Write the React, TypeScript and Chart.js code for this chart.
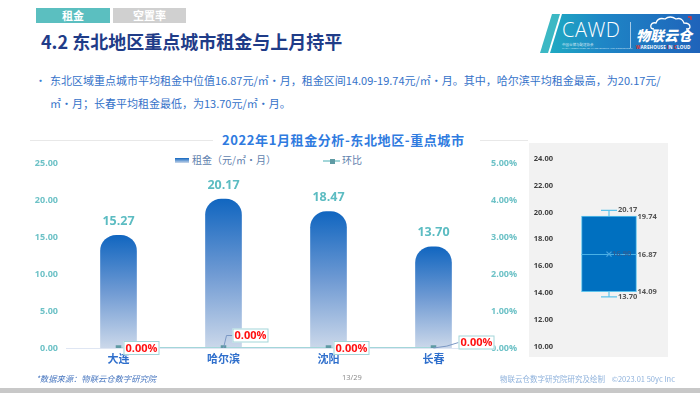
import React, { useEffect, useRef } from "react";
import { Chart, registerables } from "chart.js";

Chart.register(...registerables);

// ---------- data ----------
const cities = ["大连", "哈尔滨", "沈阳", "长春"];
const rentValues = [15.27, 20.17, 18.47, 13.7];
const momValues = [0, 0, 0, 0];
const rentAxisMax = 25;
const rentAxisStep = 5;
const pctAxisMax = 5;
const pctAxisStep = 1;

const boxMin = 13.7;
const boxQ1 = 14.09;
const boxMedian = 16.87;
const boxQ3 = 19.74;
const boxMax = 20.17;
const boxMean = 16.9;
const boxAxisMin = 10;
const boxAxisMax = 24;
const boxAxisStep = 2;

// ---------- styles ----------
const changeLabelPlacement = [
  { dx: 5, dy: 0, leader: 0 },
  { dx: 9, dy: -12.5, leader: 1 },
  { dx: 5, dy: 0, leader: 0 },
  { dx: 25, dy: -5.5, leader: 2 },
];
const NUM_FONT = "'Open Sans', 'Noto Sans CJK SC', sans-serif";
const CJK_FONT = "'Noto Sans CJK SC', 'Noto Sans', sans-serif";

const mainLabelsPlugin = {
  id: "mainLabels",
  afterDraw(chart: any) {
    const ctx = chart.ctx;
    const bars = chart.getDatasetMeta(0).data;
    ctx.save();
    ctx.font = `bold 12.5px ${NUM_FONT}`;
    ctx.fillStyle = "#5cbcc2";
    ctx.textAlign = "center";
    ctx.textBaseline = "middle";
    bars.forEach((b: any, i: number) => {
      ctx.fillText(rentValues[i].toFixed(2), b.x, b.y - 14);
    });
    const pts = chart.getDatasetMeta(1).data;
    pts.forEach((p: any, i: number) => {
      const pl = changeLabelPlacement[i];
      const bw = 36;
      const bh = 14;
      const left = p.x + pl.dx;
      const cy = p.y + pl.dy;
      ctx.strokeStyle = "#7b98c4";
      ctx.lineWidth = 1;
      if (pl.leader === 1) {
        ctx.beginPath();
        ctx.moveTo(p.x, p.y);
        ctx.lineTo(p.x + 3, cy);
        ctx.lineTo(left, cy);
        ctx.stroke();
      } else if (pl.leader === 2) {
        ctx.beginPath();
        ctx.moveTo(p.x, p.y);
        ctx.quadraticCurveTo(p.x + 14, p.y - 1, left, cy);
        ctx.stroke();
      }
      ctx.fillStyle = "#ffffff";
      ctx.fillRect(left, cy - bh / 2, bw, bh);
      ctx.strokeStyle = "#a3d6d9";
      ctx.strokeRect(left + 0.5, cy - bh / 2 + 0.5, bw - 1, bh - 1);
      ctx.fillStyle = "#ff1010";
      ctx.font = `bold 11px ${NUM_FONT}`;
      ctx.textAlign = "center";
      ctx.fillText((momValues[i]).toFixed(2) + "%", left + bw / 2, cy + 0.5);
    });
    ctx.restore();
  },
};

const boxPlugin = {
  id: "boxExtras",
  afterDatasetsDraw(chart: any) {
    const ctx = chart.ctx;
    const y = chart.scales.y;
    const bar = chart.getDatasetMeta(0).data[0];
    const x = bar.x;
    const half = bar.width / 2;
    ctx.save();
    ctx.strokeStyle = "#5ec3ec";
    ctx.lineWidth = 1.2;
    const yMax = y.getPixelForValue(boxMax);
    const yQ3 = y.getPixelForValue(boxQ3);
    const yQ1 = y.getPixelForValue(boxQ1);
    const yMin = y.getPixelForValue(boxMin);
    const yMed = y.getPixelForValue(boxMedian);
    const yMean = y.getPixelForValue(boxMean);
    ctx.beginPath();
    ctx.moveTo(x, yMax);
    ctx.lineTo(x, yQ3);
    ctx.moveTo(x - 8, yMax);
    ctx.lineTo(x + 8, yMax);
    ctx.moveTo(x, yQ1);
    ctx.lineTo(x, yMin);
    ctx.moveTo(x - 8, yMin);
    ctx.lineTo(x + 8, yMin);
    ctx.stroke();
    ctx.strokeStyle = "#4ab3e6";
    ctx.lineWidth = 1;
    ctx.beginPath();
    ctx.moveTo(x - half, yMed);
    ctx.lineTo(x + half, yMed);
    ctx.stroke();
    // mean marker
    ctx.strokeStyle = "#4aa6e0";
    ctx.lineWidth = 1.2;
    ctx.beginPath();
    ctx.moveTo(x - 2.5, yMean - 2.5);
    ctx.lineTo(x + 2.5, yMean + 2.5);
    ctx.moveTo(x + 2.5, yMean - 2.5);
    ctx.lineTo(x - 2.5, yMean + 2.5);
    ctx.stroke();
    ctx.font = `bold 7.5px ${NUM_FONT}`;
    ctx.textBaseline = "middle";
    ctx.textAlign = "left";
    ctx.fillStyle = "#2d5f96";
    ctx.fillText(boxMean.toFixed(2), x + 3, yMean);
    ctx.fillStyle = "#555555";
    ctx.fillText(boxMax.toFixed(2), x + 9, yMax);
    ctx.fillText(boxMin.toFixed(2), x + 9, yMin);
    ctx.fillText(boxQ3.toFixed(2), x + half + 1, yQ3 + 1);
    ctx.fillText(boxMedian.toFixed(2), x + half + 1, yMed);
    ctx.fillText(boxQ1.toFixed(2), x + half + 1, yQ1);
    ctx.restore();
  },
};

function MainChart() {
  const ref = useRef<HTMLCanvasElement>(null);
  useEffect(() => {
    const chart = new Chart(ref.current!, {
      type: "bar",
      data: {
        labels: cities,
        datasets: [
          {
            type: "bar",
            label: "租金（元/㎡·月）",
            data: rentValues,
            yAxisID: "y",
            barThickness: 36,
            borderRadius: { topLeft: 16, topRight: 16, bottomLeft: 0, bottomRight: 0 },
            borderSkipped: false,
            backgroundColor: (c: any) => {
              const chart = c.chart;
              const area = chart.chartArea;
              if (!area || c.dataIndex === undefined) return "#6b95cf";
              const ys = chart.scales.y;
              const top = ys.getPixelForValue(rentValues[c.dataIndex]);
              const bottom = ys.getPixelForValue(0);
              const g = chart.ctx.createLinearGradient(0, top, 0, bottom);
              g.addColorStop(0, "#1166c0");
              g.addColorStop(0.5, "#6f9ad3");
              g.addColorStop(1, "#cbd8ea");
              return g;
            },
            order: 2,
          },
          {
            type: "line",
            label: "环比",
            data: momValues,
            yAxisID: "y1",
            borderColor: "#a3d6d9",
            borderWidth: 2,
            pointStyle: "rect",
            pointRadius: 2.5,
            pointBackgroundColor: "#5f9ba4",
            pointBorderColor: "#5f9ba4",
            order: 1,
          } as any,
        ],
      },
      options: {
        animation: false,
        responsive: false,
        maintainAspectRatio: false,
        layout: { padding: { top: 9, left: 0, right: 0, bottom: 0 } },
        plugins: { legend: { display: false }, title: { display: false }, tooltip: { enabled: false } },
        scales: {
          x: {
            grid: { display: false, drawTicks: false },
            border: { display: true, color: "#dfe6f3", width: 1 },
            ticks: {
              color: "#2f6fcc",
              font: { family: CJK_FONT, size: 11, weight: "bold" },
              padding: 4,
            },
            afterFit: (s: any) => {
              s.height = 32;
            },
          },
          y: {
            position: "left",
            min: 0,
            max: rentAxisMax,
            grid: { display: false, drawTicks: false },
            border: { display: false },
            ticks: {
              stepSize: rentAxisStep,
              color: "#6ec2c7",
              font: { family: NUM_FONT, size: 9, weight: "bold" },
              padding: 8,
              callback: (v: any) => Number(v).toFixed(2),
            },
            afterFit: (s: any) => {
              s.width = 66;
            },
          },
          y1: {
            position: "right",
            min: 0,
            max: pctAxisMax,
            grid: { display: false, drawTicks: false },
            border: { display: false },
            ticks: {
              stepSize: pctAxisStep,
              color: "#6ec2c7",
              font: { family: NUM_FONT, size: 9, weight: "bold" },
              padding: 5,
              callback: (v: any) => Number(v).toFixed(2) + "%",
            },
            afterFit: (s: any) => {
              s.width = 44;
            },
          },
        },
      },
      plugins: [mainLabelsPlugin],
    });
    return () => chart.destroy();
  }, []);
  return <canvas ref={ref} width={530} height={230} style={{ position: "absolute", left: 0, top: 150, width: 530, height: 230 }} />;
}

function BoxChart() {
  const ref = useRef<HTMLCanvasElement>(null);
  useEffect(() => {
    const chart = new Chart(ref.current!, {
      type: "bar",
      data: {
        labels: ["租金"],
        datasets: [
          {
            data: [[boxQ1, boxQ3]] as any,
            backgroundColor: "#0070c0",
            borderColor: "#5ec3ec",
            borderWidth: 1,
            borderSkipped: false,
            barThickness: 55,
          },
        ],
      },
      options: {
        animation: false,
        responsive: false,
        maintainAspectRatio: false,
        layout: { padding: { top: 16, bottom: 7, right: 9, left: 0 } },
        plugins: { legend: { display: false }, tooltip: { enabled: false } },
        scales: {
          x: { display: false },
          y: {
            min: boxAxisMin,
            max: boxAxisMax,
            grid: { display: false, drawTicks: false },
            border: { display: false },
            ticks: {
              stepSize: boxAxisStep,
              color: "#404040",
              font: { family: NUM_FONT, size: 7.5, weight: "bold" },
              padding: 6,
              callback: (v: any) => Number(v).toFixed(2),
            },
            afterFit: (s: any) => {
              s.width = 30;
            },
          },
        },
      },
      plugins: [boxPlugin],
    });
    return () => chart.destroy();
  }, []);
  return (
    <canvas
      ref={ref}
      width={139}
      height={214}
      style={{ position: "absolute", left: 529, top: 143, width: 139, height: 214, background: "#f2f2f2" }}
    />
  );
}

function Logo() {
  return (
    <div style={{ position: "absolute", left: 540, top: 14, width: 160, height: 39 }}>
      <div
        style={{
          position: "absolute",
          left: 0,
          top: 0,
          width: 20,
          height: 39,
          background: "#3cb8c4",
          clipPath: "polygon(12px 0, 20px 0, 8px 100%, 0 100%)",
        }}
      />
      <div
        style={{
          position: "absolute",
          left: 10,
          top: 0,
          width: 150,
          height: 39,
          background: "linear-gradient(90deg, #1fa9c2 0%, #1e86c6 35%, #1f63ba 100%)",
          clipPath: "polygon(12px 0, 100% 0, 100% 100%, 0 100%)",
        }}
      />
      <div
        style={{
          position: "absolute",
          left: 22,
          top: 5,
          color: "#fff",
          fontFamily: "'Open Sans', sans-serif",
          fontWeight: 300,
          fontSize: 20,
          lineHeight: "22px",
          letterSpacing: 0.5,
        }}
      >
        CAWD
      </div>
      <div style={{ position: "absolute", left: 22, top: 28, color: "#dbeaf6", fontSize: 3.5, whiteSpace: "nowrap", fontFamily: CJK_FONT }}>
        中国仓储与配送协会
      </div>
      <div style={{ position: "absolute", left: 22, top: 32, color: "#dbeaf6", fontSize: 2.5, whiteSpace: "nowrap", fontFamily: NUM_FONT }}>
        CHINA ASSOCIATION OF WAREHOUSING AND DISTRIBUTION
      </div>
      <div style={{ position: "absolute", left: 90, top: 8, width: 1, height: 26, background: "rgba(255,255,255,0.6)" }} />
      <svg style={{ position: "absolute", left: 110, top: 2 }} width={44} height={14} viewBox="0 0 44 14">
        <path d="M4 13 Q0 13 1 9 Q2 6 6 7 Q8 1 15 3 Q20 -1 26 3 Q32 1 34 7 Q40 7 40 11 Q40 13 36 13" fill="none" stroke="#fff" strokeWidth={1.3} />
        <path d="M38 1 l3 0 l0 3" fill="none" stroke="#e8312f" strokeWidth={1.3} />
      </svg>
      <div
        style={{
          position: "absolute",
          left: 96,
          top: 13,
          color: "#fff",
          fontFamily: CJK_FONT,
          fontWeight: 900,
          fontSize: 14,
          lineHeight: "16px",
          whiteSpace: "nowrap",
          fontStyle: "italic",
        }}
      >
        物联云仓
      </div>
      <div style={{ position: "absolute", left: 96, top: 30, color: "#fff", fontFamily: NUM_FONT, fontWeight: 700, fontSize: 4.6, whiteSpace: "nowrap", letterSpacing: 0.1 }}>
        <span style={{ color: "#e8312f" }}>W</span>AREHOUSE <span style={{ color: "#e8312f" }}>I</span>N <span style={{ color: "#e8312f" }}>C</span>LOUD
      </div>
    </div>
  );
}

export default function App() {
  useEffect(() => {
    document.body.style.margin = "0";
  }, []);
  return (
    <div
      style={{
        position: "fixed",
        left: 0,
        top: 0,
        width: 700,
        height: 393,
        background: "#fff",
        overflow: "hidden",
        fontFamily: CJK_FONT,
      }}
    >
      {/* tabs */}
      <div
        style={{
          position: "absolute",
          left: 36,
          top: 8,
          width: 74,
          height: 15,
          background: "#5bbfc0",
          color: "#fff",
          fontWeight: 700,
          fontSize: 11,
          lineHeight: "15px",
          textAlign: "center",
        }}
      >
        租金
      </div>
      <div
        style={{
          position: "absolute",
          left: 113,
          top: 8,
          width: 73,
          height: 15,
          background: "#d0d0d0",
          color: "#fff",
          fontWeight: 700,
          fontSize: 11,
          lineHeight: "15px",
          textAlign: "center",
        }}
      >
        空置率
      </div>
      {/* title */}
      <div
        style={{
          position: "absolute",
          left: 41,
          top: 28,
          color: "#1f3c88",
          fontWeight: 700,
          fontSize: 18,
          lineHeight: "26px",
          whiteSpace: "nowrap",
        }}
      >
        4.2 东北地区重点城市租金与上月持平
      </div>
      <Logo />
      {/* bullet text */}
      <div style={{ position: "absolute", left: 35, top: 69, color: "#3d7fd6", fontSize: 11, lineHeight: "23px" }}>•</div>
      <div
        style={{
          position: "absolute",
          left: 50,
          top: 69,
          color: "#3572c9",
          fontSize: 11,
          lineHeight: "23px",
          whiteSpace: "nowrap",
        }}
      >
        东北区域重点城市平均租金中位值16.87元/㎡·月，租金区间14.09-19.74元/㎡·月。其中，哈尔滨平均租金最高，为20.17元/
        <br />
        ㎡·月；长春平均租金最低，为13.70元/㎡·月。
      </div>
      {/* chart title */}
      <div style={{ position: "absolute", left: 30, top: 140, width: 183, height: 1, background: "#e8e8e8" }} />
      <div style={{ position: "absolute", left: 480, top: 140, width: 48, height: 1, background: "#e8e8e8" }} />
      <div
        style={{
          position: "absolute",
          left: 222,
          top: 131,
          color: "#2f7be0",
          fontWeight: 700,
          fontSize: 13,
          lineHeight: "18px",
          letterSpacing: 0.6,
          whiteSpace: "nowrap",
        }}
      >
        2022年1月租金分析-东北地区-重点城市
      </div>
      {/* legend */}
      <div
        style={{
          position: "absolute",
          left: 175,
          top: 158,
          width: 14,
          height: 5,
          background: "linear-gradient(180deg, #1166c0, #cbd8ea)",
        }}
      />
      <div style={{ position: "absolute", left: 192, top: 153, color: "#5f7fae", fontSize: 10, lineHeight: "14px", whiteSpace: "nowrap" }}>
        租金（元/㎡·月）
      </div>
      <div style={{ position: "absolute", left: 323, top: 160, width: 17, height: 2, background: "#a3d6d9" }} />
      <div style={{ position: "absolute", left: 329.5, top: 158.5, width: 5, height: 5, background: "#5f9ba4" }} />
      <div style={{ position: "absolute", left: 342, top: 153, color: "#5f7fae", fontSize: 10, lineHeight: "14px", whiteSpace: "nowrap" }}>
        环比
      </div>
      <MainChart />
      <BoxChart />
      {/* footer */}
      <div
        style={{
          position: "absolute",
          left: 36,
          top: 372,
          color: "#4a78c0",
          fontSize: 8.3,
          lineHeight: "12px",
          fontStyle: "italic",
          whiteSpace: "nowrap",
        }}
      >
        *数据来源：物联云仓数字研究院
      </div>
      <div style={{ position: "absolute", left: 342, top: 371, color: "#888", fontSize: 7.5, lineHeight: "12px", fontFamily: NUM_FONT }}>13/29</div>
      <div
        style={{
          position: "absolute",
          left: 500,
          top: 373,
          color: "#8fb2dc",
          fontSize: 7.5,
          lineHeight: "12px",
          whiteSpace: "nowrap",
        }}
      >
        物联云仓数字研究院研究及绘制&nbsp;&nbsp;&nbsp;&nbsp;©2023.01 50yc Inc
      </div>
      <div style={{ position: "absolute", left: 0, top: 388, width: 700, height: 5, background: "#c8c8c8" }} />
    </div>
  );
}
